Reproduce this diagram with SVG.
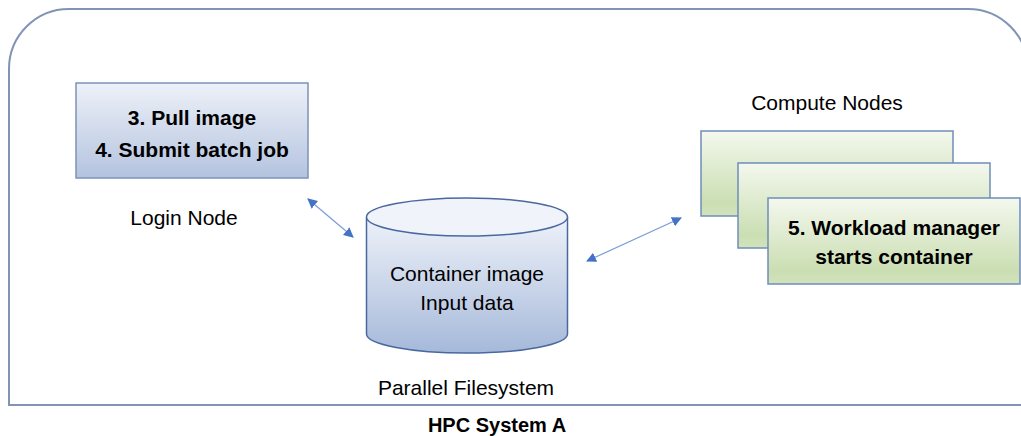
<svg xmlns="http://www.w3.org/2000/svg" width="1021" height="436" viewBox="0 0 1021 436">
<defs>
<linearGradient id="gBlue" x1="0" y1="0" x2="0" y2="1">
<stop offset="0" stop-color="#eef1f8"/>
<stop offset="1" stop-color="#b3c3df"/>
</linearGradient>
<linearGradient id="gGreen" x1="0" y1="0" x2="0" y2="1">
<stop offset="0" stop-color="#f4f8ee"/>
<stop offset="0.85" stop-color="#cadeb2"/>
<stop offset="1" stop-color="#d2e3bd"/>
</linearGradient>
<linearGradient id="gCyl" x1="0" y1="0" x2="0" y2="1">
<stop offset="0" stop-color="#eef2f9"/>
<stop offset="1" stop-color="#a6b9da"/>
</linearGradient>
<marker id="ah" viewBox="0 0 10 10" refX="9" refY="5" markerWidth="10" markerHeight="10" orient="auto-start-reverse" markerUnits="userSpaceOnUse">
<path d="M0,0 L10,5 L0,10 Z" fill="#4472c4"/>
</marker>
</defs>
<style>
.t{font-family:"Liberation Sans",Arial,sans-serif;fill:#000;text-anchor:middle}
.r{font-size:21px}
.b{font-size:21px;font-weight:bold}
.box{stroke:#7d93b8;stroke-width:1.5}
.gbox{stroke:#6f8db8;stroke-width:1.5;fill:url(#gGreen)}
.conn{stroke:#7b9cd6;stroke-width:1.2;fill:none;marker-start:url(#ah);marker-end:url(#ah)}
</style>
<g id="hpc-system">
<path d="M9,405 L9,69 A60,60 0 0 1 69,9 L968,9 A60,60 0 0 1 1028,69 L1028,405 Z" fill="#fff" stroke="#8194b5" stroke-width="2"/>
<text class="t" x="497" y="432" style="font-size:20px;font-weight:bold">HPC System A</text>
</g>
<g id="login-node">
<rect x="76" y="83" width="232" height="95" class="box" fill="url(#gBlue)"/>
<text class="t b" x="192" y="125">3. Pull image</text>
<text class="t b" x="192" y="157">4. Submit batch job</text>
<text class="t r" x="184" y="225">Login Node</text>
</g>
<g id="parallel-filesystem">
<path d="M366.5,217 L366.5,334 A100.5,19 0 0 0 567.5,334 L567.5,217" fill="url(#gCyl)" stroke="#4a68a0" stroke-width="1.5"/>
<ellipse cx="467" cy="217" rx="100.5" ry="19" fill="#f0f3fa" stroke="#4a68a0" stroke-width="1.5"/>
<text class="t r" x="467" y="281">Container image</text>
<text class="t r" x="467" y="310">Input data</text>
<text class="t r" x="466" y="395">Parallel Filesystem</text>
</g>
<g id="compute-nodes">
<text class="t r" x="827" y="110">Compute Nodes</text>
<rect x="701" y="131" width="252" height="85" class="gbox"/>
<rect x="738" y="163" width="252" height="85" class="gbox"/>
<rect x="768" y="198" width="252" height="86" class="gbox"/>
<text class="t b" x="894" y="235">5. Workload manager</text>
<text class="t b" x="894" y="264">starts container</text>
</g>
<g id="connectors">
<line class="conn" x1="308" y1="199" x2="353" y2="237"/>
<line class="conn" x1="681" y1="218" x2="587" y2="261"/>
</g>
</svg>
